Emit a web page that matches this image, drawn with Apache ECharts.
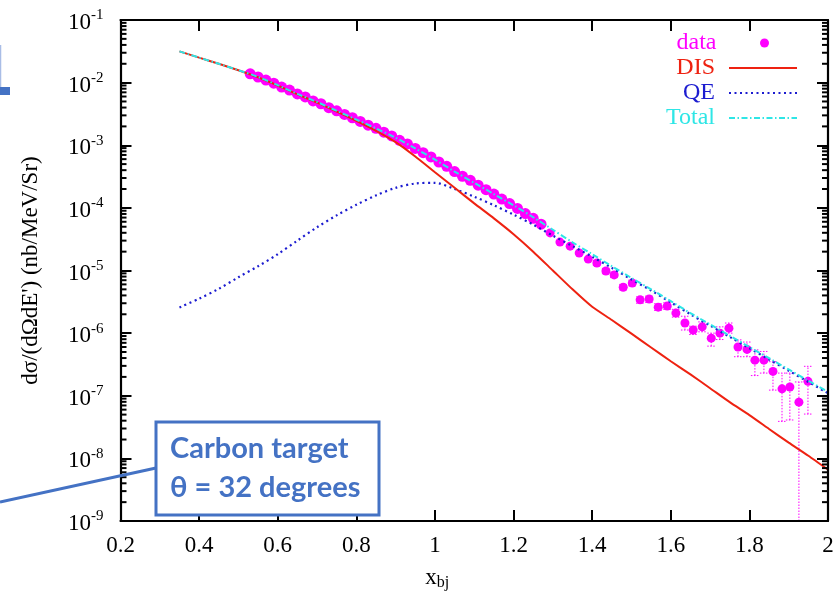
<!DOCTYPE html>
<html>
<head>
<meta charset="utf-8">
<script src="https://cdn.jsdelivr.net/npm/echarts@6/dist/echarts.min.js"></script>
<style>
  html, body { margin: 0; padding: 0; background: #fff; }
  #main { width: 839px; height: 601px; }
</style>
</head>
<body>
<div id="main"></div>
<script>
// model curves
var curveX = [0.35, 0.40, 0.45, 0.50, 0.55, 0.60, 0.65, 0.70, 0.75, 0.80, 0.85, 0.90, 0.95, 1.00,
  1.05, 1.10, 1.15, 1.20, 1.25, 1.30, 1.35, 1.40, 1.45, 1.50, 1.55, 1.60, 1.65, 1.70, 1.75,
  1.80, 1.85, 1.90, 1.95, 2.00]
var totalY = [3.16e-2, 2.51e-2, 2.0e-2, 1.58e-2, 1.23e-2, 9.1e-3, 6.6e-3, 4.9e-3, 3.55e-3, 2.57e-3,
  1.86e-3, 1.32e-3, 8.9e-4, 5.9e-4, 3.8e-4, 2.51e-4, 1.66e-4, 1.10e-4, 7.08e-5, 4.47e-5, 2.82e-5,
  1.82e-5, 1.17e-5, 7.6e-6, 5.0e-6, 3.24e-6, 2.09e-6, 1.38e-6, 9.1e-7, 6.0e-7, 3.98e-7, 2.63e-7,
  1.74e-7, 1.15e-7]
var disY = [3.16e-2, 2.51e-2, 2.0e-2, 1.58e-2, 1.22e-2, 9.0e-3, 6.5e-3, 4.8e-3, 3.45e-3, 2.45e-3,
  1.70e-3, 1.12e-3, 6.6e-4, 3.7e-4, 2.09e-4, 1.18e-4, 6.8e-5, 3.8e-5, 2.0e-5, 1.0e-5, 5.0e-6,
  2.63e-6, 1.62e-6, 9.8e-7, 5.9e-7, 3.55e-7, 2.19e-7, 1.32e-7, 7.9e-8, 4.9e-8, 2.95e-8, 1.78e-8,
  1.10e-8, 6.6e-9]
var qeY = [2.57e-6, 3.55e-6, 5.1e-6, 7.8e-6, 1.17e-5, 1.82e-5, 3.0e-5, 4.9e-5, 7.6e-5, 1.12e-4,
  1.58e-4, 2.09e-4, 2.45e-4, 2.51e-4, 2.0e-4, 1.51e-4, 1.10e-4, 7.8e-5, 5.4e-5, 3.6e-5, 2.45e-5,
  1.66e-5, 1.10e-5, 7.2e-6, 4.8e-6, 3.1e-6, 2.0e-6, 1.32e-6, 8.7e-7, 5.75e-7, 3.8e-7, 2.51e-7,
  1.66e-7, 1.10e-7]

// measured points
var dataX = [0.53, 0.55, 0.57, 0.59, 0.61, 0.63, 0.65, 0.67, 0.69, 0.71, 0.73, 0.75, 0.77, 0.79,
  0.81, 0.83, 0.85, 0.87, 0.89, 0.91, 0.93, 0.95, 0.97, 0.99, 1.01, 1.03, 1.05, 1.07, 1.09, 1.11,
  1.13, 1.15, 1.17, 1.19, 1.21, 1.23, 1.25, 1.27,
  1.293, 1.318, 1.344, 1.367, 1.390, 1.412, 1.435, 1.456, 1.479, 1.502, 1.522, 1.545, 1.568,
  1.591, 1.613, 1.636, 1.657, 1.680, 1.703, 1.725, 1.748, 1.771, 1.794, 1.814, 1.837, 1.860,
  1.883, 1.903, 1.926, 1.949]
var dataY = [1.38e-2, 1.23e-2, 1.10e-2, 9.8e-3, 8.5e-3, 7.6e-3, 6.6e-3, 5.9e-3, 5.1e-3, 4.6e-3,
  3.98e-3, 3.55e-3, 3.1e-3, 2.75e-3, 2.4e-3, 2.09e-3, 1.86e-3, 1.62e-3, 1.41e-3, 1.20e-3,
  1.05e-3, 8.9e-4, 7.6e-4, 6.5e-4, 5.4e-4, 4.6e-4, 3.8e-4, 3.2e-4, 2.75e-4, 2.3e-4,
  1.95e-4, 1.66e-4, 1.38e-4, 1.17e-4, 9.8e-5, 8.1e-5, 6.8e-5, 5.5e-5,
  3.98e-5, 2.84e-5, 2.45e-5, 1.9e-5, 1.52e-5, 1.32e-5, 9.8e-6, 8.5e-6, 5.4e-6, 6.3e-6, 3.4e-6,
  3.5e-6, 2.6e-6, 2.7e-6, 2.09e-6, 1.45e-6, 1.12e-6, 1.26e-6, 8.3e-7, 1.0e-6, 1.2e-6, 6.0e-7,
  5.5e-7, 3.7e-7, 3.7e-7, 2.45e-7, 1.29e-7, 1.38e-7, 7.9e-8, 1.7e-7]

// error bars (only where they stick out of the dots)
var errX = [1.412, 1.435, 1.456, 1.479, 1.502, 1.522, 1.545, 1.568, 1.591, 1.613, 1.636, 1.657,
  1.680, 1.703, 1.725, 1.748, 1.771, 1.794, 1.814, 1.837, 1.860, 1.883, 1.903, 1.926, 1.949]
var errLow = [1.2e-5, 8.9e-6, 7.7e-6, 4.9e-6, 5.7e-6, 3.0e-6, 3.1e-6, 2.3e-6, 2.4e-6, 1.8e-6,
  1.12e-6, 9.5e-7, 1.05e-6, 6.2e-7, 7.9e-7, 1.0e-6, 4.2e-7, 4.2e-7, 2.1e-7, 2.3e-7, 1.23e-7,
  3.9e-8, 4.1e-8, 1.0e-9, 5.1e-8]
var errHigh = [1.45e-5, 1.08e-5, 9.4e-6, 6.0e-6, 7.0e-6, 3.8e-6, 3.9e-6, 2.95e-6, 3.05e-6, 2.4e-6,
  1.86e-6, 1.29e-6, 1.51e-6, 1.0e-6, 1.26e-6, 1.45e-6, 7.8e-7, 7.2e-7, 5.4e-7, 5.1e-7, 3.5e-7,
  2.3e-7, 2.3e-7, 1.66e-7, 2.95e-7]

// minor log ticks 2..9 per decade
var minorMult = [2, 3, 4, 5, 6, 7, 8, 9]
var minorTicks = []
for (var e = -9; e <= -2; e++) {
  minorMult.forEach(function (m) { minorTicks.push(m * Math.pow(10, e)) })
}

var serif = 'Liberation Serif'
var cMag = '#ff00ff', cRed = '#ee2211', cBlue = '#1c1cd0', cCyan = '#2ee6e6'

function pairs(xs, ys) {
  return xs.map(function (x, i) { return [x, ys[i]] })
}

var chart = echarts.init(document.getElementById('main'))

function axisLine() {
  return { show: true, lineStyle: { color: '#000', width: 2.2 } }
}
function majorTick() {
  return { show: true, inside: true, length: 11, lineStyle: { color: '#000', width: 2 } }
}

function legendItem(name, color, top, right, itemHeight, hideSymbol) {
  var l = {
    data: [{ name: name }],
    right: right,
    top: top,
    padding: 0,
    align: 'right',
    itemWidth: 68,
    itemHeight: itemHeight,
    selectedMode: false,
    textStyle: { color: color, fontFamily: serif, fontSize: 24, padding: [0, 9, 0, 0] }
  }
  if (hideSymbol) l.itemStyle = { opacity: 0 }
  return l
}

var option = {
  animation: false,
  backgroundColor: '#fff',
  grid: { left: 120.5, right: 11, top: 20, bottom: 80 },
  legend: [
    legendItem('data', cMag, 31, 70, 9, false),
    legendItem('DIS', cRed, 56, 41, 14, true),
    legendItem('QE', cBlue, 81, 41, 14, true),
    legendItem('Total', cCyan, 106, 41, 14, true)
  ],
  xAxis: [
    {
      type: 'value', min: 0.2, max: 2, interval: 0.2, z: 10,
      axisLine: axisLine(), axisTick: majorTick(), splitLine: { show: false },
      axisLabel: { color: '#000', fontFamily: serif, fontSize: 23, margin: 13 },
      name: '{x|x}{s|bj}',
      nameLocation: 'middle',
      nameGap: 44,
      nameTextStyle: {
        padding: [0, 74, 0, 0],
        rich: {
          x: { fontFamily: serif, fontSize: 23, color: '#000', lineHeight: 26 },
          s: { fontFamily: serif, fontSize: 16, color: '#000', verticalAlign: 'bottom', lineHeight: 16, padding: [12, 0, 0, 0] }
        }
      }
    },
    {
      type: 'value', position: 'top', min: 0.2, max: 2, interval: 0.2, z: 10,
      axisLine: axisLine(), axisTick: majorTick(), axisLabel: { show: false }, splitLine: { show: false }
    }
  ],
  yAxis: [
    {
      type: 'log', logBase: 10, min: 1e-9, max: 1e-1, position: 'left', z: 10,
      axisLine: axisLine(), axisTick: majorTick(), splitLine: { show: false },
      axisLabel: {
        margin: 17,
        padding: [6, 0, 0, 0],
        formatter: function (v) {
          return '{b|10}{s|' + Math.round(Math.log10(v)) + '}'
        },
        rich: {
          b: { fontFamily: serif, fontSize: 23, color: '#000', lineHeight: 30 },
          s: { fontFamily: serif, fontSize: 15, color: '#000', verticalAlign: 'top', lineHeight: 30 }
        }
      },
      name: 'dσ/(dΩdE\') (nb/MeV/Sr)',
      nameLocation: 'middle',
      nameGap: 78,
      nameTextStyle: { fontFamily: serif, fontSize: 23, color: '#000' }
    },
    {
      type: 'log', logBase: 10, min: 1e-9, max: 1e-1, position: 'right', z: 10,
      axisLine: axisLine(), axisTick: majorTick(), axisLabel: { show: false }, splitLine: { show: false }
    }
  ],
  series: [
    {
      // minor ticks of the log axis, both sides of the frame
      name: 'minorTicks',
      type: 'custom',
      clip: false,
      data: minorTicks.map(function (v) { return [0.2, v] }),
      renderItem: function (params, api) {
        var p = api.coord([0.2, api.value(1)])
        var cs = params.coordSys
        var st = { stroke: '#000', lineWidth: 2 }
        return {
          type: 'group',
          children: [
            { type: 'line', shape: { x1: cs.x, y1: p[1], x2: cs.x + 6, y2: p[1] }, style: st },
            { type: 'line', shape: { x1: cs.x + cs.width - 6, y1: p[1], x2: cs.x + cs.width, y2: p[1] }, style: st }
          ]
        }
      },
      silent: true,
      z: 10
    },
    {
      name: 'data',
      type: 'scatter',
      data: pairs(dataX, dataY),
      symbol: 'circle',
      symbolSize: function (v) { return v[0] < 1.28 ? 11 : 9 },
      itemStyle: { color: cMag, opacity: 1 },
      z: 2
    },
    {
      name: 'err',
      type: 'custom',
      clip: true,
      data: errX.map(function (x, i) { return [x, errLow[i], errHigh[i]] }),
      renderItem: function (params, api) {
        var x = api.value(0)
        var lo = api.coord([x, api.value(1)])
        var hi = api.coord([x, api.value(2)])
        var w = 4
        var st = { stroke: cMag, lineWidth: 1, lineDash: [1.5, 1.5] }
        return {
          type: 'group',
          children: [
            { type: 'line', shape: { x1: lo[0], y1: lo[1], x2: hi[0], y2: hi[1] }, style: st },
            { type: 'line', shape: { x1: lo[0] - w, y1: lo[1], x2: lo[0] + w, y2: lo[1] }, style: st },
            { type: 'line', shape: { x1: hi[0] - w, y1: hi[1], x2: hi[0] + w, y2: hi[1] }, style: st }
          ]
        }
      },
      z: 2
    },
    {
      name: 'QE',
      type: 'line',
      data: pairs(curveX, qeY),
      symbol: 'none',
      smooth: 0.3,
      lineStyle: { color: cBlue, width: 2.2, type: [2, 3.5] },
      itemStyle: { color: cBlue },
      z: 3
    },
    {
      name: 'DIS',
      type: 'line',
      data: pairs(curveX, disY),
      symbol: 'none',
      smooth: 0.2,
      lineStyle: { color: cRed, width: 2 },
      itemStyle: { color: cRed },
      z: 4
    },
    {
      name: 'Total',
      type: 'line',
      data: pairs(curveX, totalY),
      symbol: 'none',
      smooth: 0.3,
      lineStyle: { color: cCyan, width: 2, type: [6, 2.5, 1.5, 2.5] },
      itemStyle: { color: cCyan },
      z: 5
    }
  ],
  graphic: [
    { type: 'line', shape: { x1: 0, y1: 502, x2: 156, y2: 468 }, style: { stroke: '#4472c4', lineWidth: 3 }, z: 100 },
    { type: 'rect', shape: { x: 156, y: 422, width: 223, height: 93 }, style: { fill: '#fff', stroke: '#4472c4', lineWidth: 3 }, z: 100 },
    {
      type: 'text', x: 170, y: 449, z: 101,
      style: { text: 'Carbon target', fill: '#4472c4', fontFamily: 'Lato', fontWeight: 'bold', fontSize: 29, verticalAlign: 'middle' }
    },
    {
      type: 'text', x: 170, y: 488, z: 101,
      style: { text: 'θ = 32 degrees', fill: '#4472c4', fontFamily: 'Lato', fontWeight: 'bold', fontSize: 29, verticalAlign: 'middle' }
    },
    { type: 'rect', shape: { x: 0, y: 87, width: 10, height: 8 }, style: { fill: '#4472c4' }, z: 100 },
    { type: 'line', shape: { x1: 0.5, y1: 45, x2: 0.5, y2: 87 }, style: { stroke: '#a9bde6', lineWidth: 1.5 }, z: 100 }
  ]
}

chart.setOption(option)
</script>
</body>
</html>
